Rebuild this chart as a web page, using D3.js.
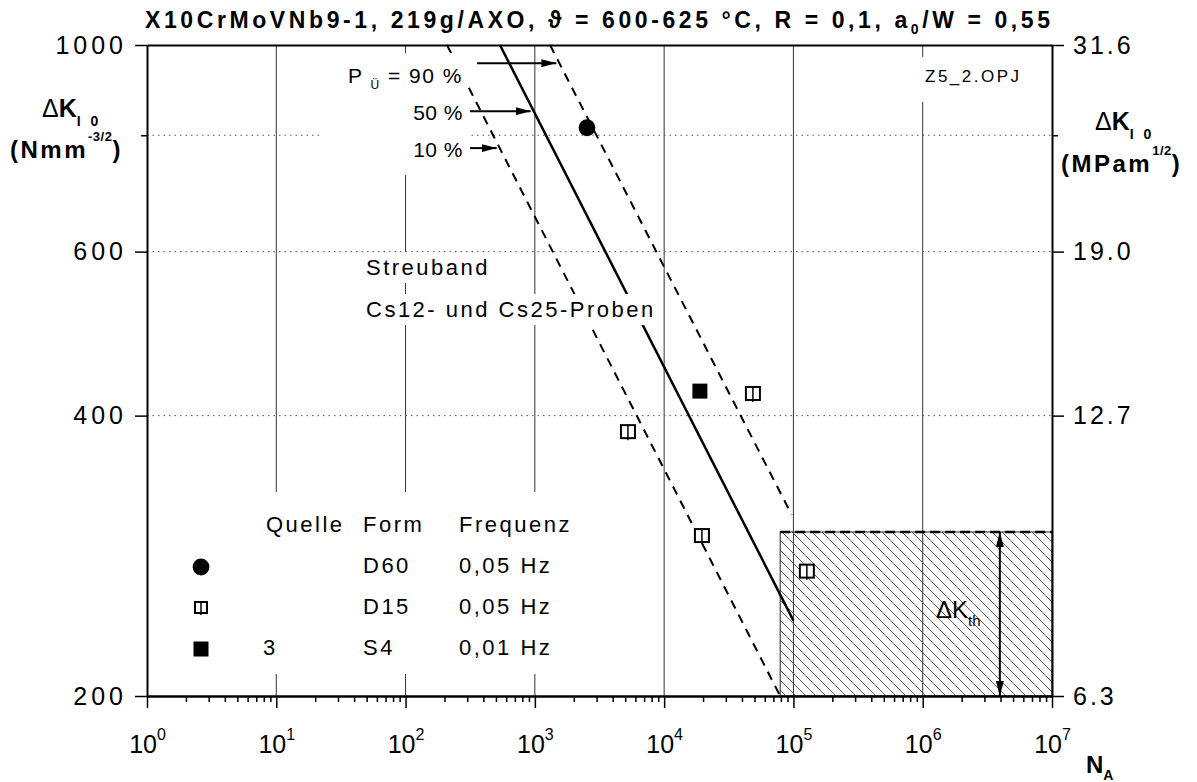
<!DOCTYPE html>
<html>
<head>
<meta charset="utf-8">
<script src="https://cdn.jsdelivr.net/npm/d3@7"></script>
<style>
  body { margin: 0; background: #fff; }
  svg { display: block; font-family: "Liberation Sans", Arial, sans-serif; }
</style>
</head>
<body>
<div id="chart"></div>
<script>
// axis values
const decades = [0, 1, 2, 3, 4, 5, 6, 7];
const minorMultipliers = [2, 3, 4, 5, 6, 7, 8, 9];
const leftTickValues = [200, 400, 600, 1000];
const leftMinorValues = [800];
const rightTickLabels = ["6.3", "12.7", "19.0", "31.6"];
const dottedGridValues = [400, 600, 800];
const gridDecadeValues = [1e1, 1e2, 1e3, 1e4, 1e5, 1e6];

// scatter band (N_A, dK)
const bandP10 = [[209, 1000], [7.9e4, 200]];
const bandP50 = [[537, 1000], [1.0e5, 241]];
const bandP90 = [[1310, 1000], [9.7e4, 313]];

// measured points (N_A, dK)
const pointsD60 = [[2530, 815]];
const pointsD15 = [[5250, 384], [19600, 297], [48600, 422], [127000, 272]];
const pointsS4 = [[18900, 425]];

// threshold region
const thresholdN = [7.9e4, 1e7];
const thresholdK = [200, 300];
const thresholdArrowN = 3.95e6;

// legend
const legendHeader = ["Quelle", "Form", "Frequenz"];
const legendSymbols = ["circle", "split", "square"];
const legendQuelle = ["", "", "3"];
const legendForm = ["D60", "D15", "S4"];
const legendFreq = ["0,05 Hz", "0,05 Hz", "0,01 Hz"];

// probability labels
const probLabels = ["90 %", "50 %", "10 %"];
const probArrowK = [956, 849, 775];

const width = 1197, height = 782;

const x = d3.scaleLog().domain([1, 1e7]).range([147, 1052]);
const y = d3.scaleLog().domain([200, 1000]).range([696, 45]);

const svg = d3.select("#chart").append("svg")
  .attr("width", width)
  .attr("height", height)
  .attr("viewBox", [0, 0, width, height]);

const defs = svg.append("defs");
const hatch = defs.append("pattern")
  .attr("id", "hatch")
  .attr("patternUnits", "userSpaceOnUse")
  .attr("width", 10).attr("height", 10);
hatch.append("path")
  .attr("d", "M0,0 L10,10 M-2,8 L2,12 M8,-2 L12,2")
  .attr("stroke", "#333").attr("stroke-width", 0.8);

defs.append("marker")
  .attr("id", "arrow")
  .attr("markerUnits", "userSpaceOnUse")
  .attr("markerWidth", 15).attr("markerHeight", 8)
  .attr("refX", 15).attr("refY", 4)
  .attr("orient", "auto-start-reverse")
  .append("path").attr("d", "M0,0 L15,4 L0,8 Z").attr("fill", "black");

// grid
svg.append("g")
  .selectAll("line")
  .data(gridDecadeValues)
  .join("line")
  .attr("x1", d => x(d)).attr("x2", d => x(d))
  .attr("y1", y(1000)).attr("y2", y(200))
  .attr("stroke", "#333").attr("stroke-width", 1);

svg.append("g")
  .selectAll("line")
  .data(dottedGridValues)
  .join("line")
  .attr("x1", x(1)).attr("x2", x(1e7))
  .attr("y1", d => y(d)).attr("y2", d => y(d))
  .attr("stroke", "#555").attr("stroke-width", 1)
  .attr("stroke-dasharray", "1.5,4");

// threshold box
svg.append("rect")
  .attr("x", x(thresholdN[0]))
  .attr("y", y(thresholdK[1]))
  .attr("width", x(thresholdN[1]) - x(thresholdN[0]))
  .attr("height", y(thresholdK[0]) - y(thresholdK[1]))
  .attr("fill", "url(#hatch)")
  .attr("stroke", "#222").attr("stroke-width", 1);

svg.append("line")
  .attr("x1", x(thresholdN[0])).attr("x2", x(thresholdN[1]))
  .attr("y1", y(thresholdK[1])).attr("y2", y(thresholdK[1]))
  .attr("stroke", "black").attr("stroke-width", 2.5)
  .attr("stroke-dasharray", "10,5");

// band lines
const line = d3.line().x(d => x(d[0])).y(d => y(d[1]));
svg.append("path").datum(bandP10).attr("d", line)
  .attr("fill", "none").attr("stroke", "black").attr("stroke-width", 2)
  .attr("stroke-dasharray", "9,7");
svg.append("path").datum(bandP90).attr("d", line)
  .attr("fill", "none").attr("stroke", "black").attr("stroke-width", 2)
  .attr("stroke-dasharray", "9,7");
svg.append("path").datum(bandP50).attr("d", line)
  .attr("fill", "none").attr("stroke", "black").attr("stroke-width", 2.5);

function backdrop(g, pad) {
  const b = g.node().getBBox();
  g.insert("rect", ":first-child")
    .attr("x", b.x - pad[3]).attr("y", b.y - pad[0])
    .attr("width", b.width + pad[1] + pad[3])
    .attr("height", b.height + pad[0] + pad[2])
    .attr("fill", "white");
}

// probability labels
const probG = svg.append("g")
  .attr("font-size", 21)
  .attr("text-anchor", "end");
probLabels.forEach((lab, i) => {
  const t = probG.append("text")
    .attr("x", 463)
    .attr("y", y(probArrowK[i]) + (i === 0 ? 20 : 9));
  if (i === 0) {
    t.attr("letter-spacing", "1.5px");
    t.append("tspan").text("P ");
    t.append("tspan").attr("font-size", 12).attr("dy", 6).text("Ü");
    t.append("tspan").attr("dy", -6).text(" = " + lab);
  } else {
    t.attr("letter-spacing", "0.5px").text(lab);
  }
});
backdrop(probG, [11, 5, 14, 26]);

function nOnBand(band, k) {
  const [[n0, k0], [n1, k1]] = band;
  const t = Math.log(k / k0) / Math.log(k1 / k0);
  return Math.exp(Math.log(n0) + t * Math.log(n1 / n0));
}
const probBands = [bandP90, bandP50, bandP10];
svg.append("g")
  .selectAll("line")
  .data(probArrowK)
  .join("line")
  .attr("x1", (d, i) => i === 0 ? 477 : 470)
  .attr("x2", (d, i) => x(nOnBand(probBands[i], d)) - 3)
  .attr("y1", d => y(d)).attr("y2", d => y(d))
  .attr("stroke", "black").attr("stroke-width", 2)
  .attr("marker-end", "url(#arrow)");

// Streuband labels
["Streuband", "Cs12- und Cs25-Proben"].forEach((s, i) => {
  const g = svg.append("g");
  g.append("text")
    .attr("x", 366).attr("y", 275 + i * 42)
    .attr("font-size", 22).attr("letter-spacing", "2.5px")
    .text(s);
  backdrop(g, [3, 3, 3, 2]);
});

// file name
const fileG = svg.append("g");
fileG.append("text")
  .attr("x", 925).attr("y", 82)
  .attr("font-size", 17).attr("letter-spacing", "2.5px")
  .text("Z5_2.OPJ");
backdrop(fileG, [10, 6, 16, 6]);

// legend
const legG = svg.append("g").attr("font-size", 22).attr("letter-spacing", "2.5px");
const legCols = [266, 363, 459];
legendHeader.forEach((h, i) => {
  legG.append("text").attr("x", legCols[i]).attr("y", 532).text(h);
});
legendSymbols.forEach((s, i) => {
  const yy = 573 + i * 41;
  legG.append("text").attr("x", 263).attr("y", yy).text(legendQuelle[i]);
  legG.append("text").attr("x", legCols[1]).attr("y", yy).text(legendForm[i]);
  legG.append("text").attr("x", legCols[2]).attr("y", yy).text(legendFreq[i]);
});
backdrop(legG, [20, 45, 14, 100]);

function drawSymbol(g, type, cx, cy, s) {
  if (type === "circle") {
    g.append("circle").attr("cx", cx).attr("cy", cy).attr("r", s * 0.56).attr("fill", "black");
  } else if (type === "square") {
    g.append("rect").attr("x", cx - s / 2).attr("y", cy - s / 2)
      .attr("width", s).attr("height", s).attr("fill", "black");
  } else {
    g.append("rect").attr("x", cx - s / 2 + 1).attr("y", cy - s / 2 + 1)
      .attr("width", s - 2).attr("height", s - 3)
      .attr("fill", "white").attr("stroke", "black").attr("stroke-width", 2);
    g.append("line").attr("x1", cx).attr("x2", cx)
      .attr("y1", cy - s / 2 + 1).attr("y2", cy + s / 2)
      .attr("stroke", "black").attr("stroke-width", 1.5);
  }
}
legendSymbols.forEach((s, i) => {
  drawSymbol(legG, s, 201, 567 + i * 41, s === "split" ? 14 : 15);
});

// points
const ptsG = svg.append("g");
pointsD60.forEach(d => drawSymbol(ptsG, "circle", x(d[0]), y(d[1]), 15));
pointsD15.forEach(d => drawSymbol(ptsG, "split", x(d[0]), y(d[1]), 16));
pointsS4.forEach(d => drawSymbol(ptsG, "square", x(d[0]), y(d[1]), 15));

// threshold arrow + label
svg.append("line")
  .attr("x1", x(thresholdArrowN)).attr("x2", x(thresholdArrowN))
  .attr("y1", y(thresholdK[1])).attr("y2", y(thresholdK[0]))
  .attr("stroke", "black").attr("stroke-width", 2)
  .attr("marker-start", "url(#arrow)").attr("marker-end", "url(#arrow)");
const kth = svg.append("text").attr("x", 936).attr("y", 618).attr("font-size", 24);
kth.append("tspan").text("ΔK");
kth.append("tspan").attr("font-size", 15).attr("dy", 8).text("th");

// axes
function styleAxis(g) {
  g.select(".domain").attr("stroke-width", 2);
  g.selectAll(".tick line").attr("stroke-width", 1.5);
  g.selectAll(".tick text").attr("font-size", 25).attr("letter-spacing", "4px")
    .attr("fill", "black").attr("font-family", "Liberation Sans, Arial, sans-serif");
}

svg.append("g")
  .attr("transform", `translate(0,${y(1000)})`)
  .call(d3.axisTop(x).tickValues([]).tickSizeOuter(0))
  .call(styleAxis);

svg.append("g")
  .attr("transform", `translate(${x(1)},0)`)
  .call(d3.axisLeft(y).tickValues(leftTickValues).tickSize(12).tickSizeOuter(0)
    .tickPadding(8).tickFormat(d3.format("d")))
  .call(styleAxis);
svg.append("g")
  .attr("transform", `translate(${x(1)},0)`)
  .call(d3.axisLeft(y).tickValues(leftMinorValues).tickSize(6).tickSizeOuter(0).tickFormat(""))
  .call(g => g.select(".domain").remove())
  .call(styleAxis);

svg.append("g")
  .attr("transform", `translate(${x(1e7)},0)`)
  .call(d3.axisRight(y).tickValues(leftTickValues).tickSize(12).tickSizeOuter(0)
    .tickPadding(9).tickFormat((d, i) => rightTickLabels[i]))
  .call(styleAxis)
  .call(g => g.selectAll(".tick text").attr("letter-spacing", "3px"));
svg.append("g")
  .attr("transform", `translate(${x(1e7)},0)`)
  .call(d3.axisRight(y).tickValues(leftMinorValues).tickSize(6).tickSizeOuter(0).tickFormat(""))
  .call(g => g.select(".domain").remove())
  .call(styleAxis);

const minorN = decades.slice(0, -1).flatMap(e => minorMultipliers.map(m => m * 10 ** e));
svg.append("g")
  .attr("transform", `translate(0,${y(200)})`)
  .call(d3.axisBottom(x).tickValues(minorN).tickSize(6).tickSizeOuter(0).tickFormat(""))
  .call(styleAxis);
const bottom = svg.append("g")
  .attr("transform", `translate(0,${y(200)})`)
  .call(d3.axisBottom(x).tickValues(decades.map(e => 10 ** e)).tickSize(12).tickSizeOuter(0).tickFormat(""))
  .call(styleAxis);
bottom.selectAll(".tick").each(function(d) {
  const t = d3.select(this).append("text")
    .attr("y", 57).attr("fill", "black")
    .attr("font-size", 25).attr("text-anchor", "middle");
  t.append("tspan").text("10");
  t.append("tspan").attr("font-size", 16).attr("dy", -13).text(Math.round(Math.log10(d)));
});

// axis titles
const nA = svg.append("text").attr("x", 1086).attr("y", 773)
  .attr("font-size", 24).attr("font-weight", "bold");
nA.append("tspan").text("N");
nA.append("tspan").attr("font-size", 14).attr("dy", 7).text("A");

function kLabel(x0, y0, x1, y1, unit, sup) {
  const t = svg.append("text").attr("x", x0).attr("y", y0).attr("font-size", 25).attr("font-weight", "bold");
  t.append("tspan").attr("font-weight", "normal").text("Δ");
  t.append("tspan").text("K");
  t.append("tspan").attr("font-size", 14).attr("dy", 9).attr("letter-spacing", "3px").text("I 0");
  const u = svg.append("text").attr("x", x1).attr("y", y1).attr("font-size", 24)
    .attr("font-weight", "bold").attr("letter-spacing", "2.5px");
  u.append("tspan").text(unit);
  u.append("tspan").attr("font-size", 13).attr("dy", -17).attr("letter-spacing", "0.5px").text(sup);
  u.append("tspan").attr("dy", 17).text(")");
}
kLabel(42, 117, 10, 158, "(Nmm", "-3/2");
kLabel(1095, 130, 1061, 172, "(MPam", "1/2");

// title
const title = svg.append("text")
  .attr("x", 145).attr("y", 28)
  .attr("font-size", 23).attr("font-weight", "bold")
  .attr("textLength", 905).attr("lengthAdjust", "spacing");
title.append("tspan").text("X10CrMoVNb9-1, 219g/AXO, ϑ = 600-625 °C, R = 0,1, a");
title.append("tspan").attr("font-size", 14).attr("dy", 6).text("0");
title.append("tspan").attr("dy", -6).text("/W = 0,55");
</script>
</body>
</html>
